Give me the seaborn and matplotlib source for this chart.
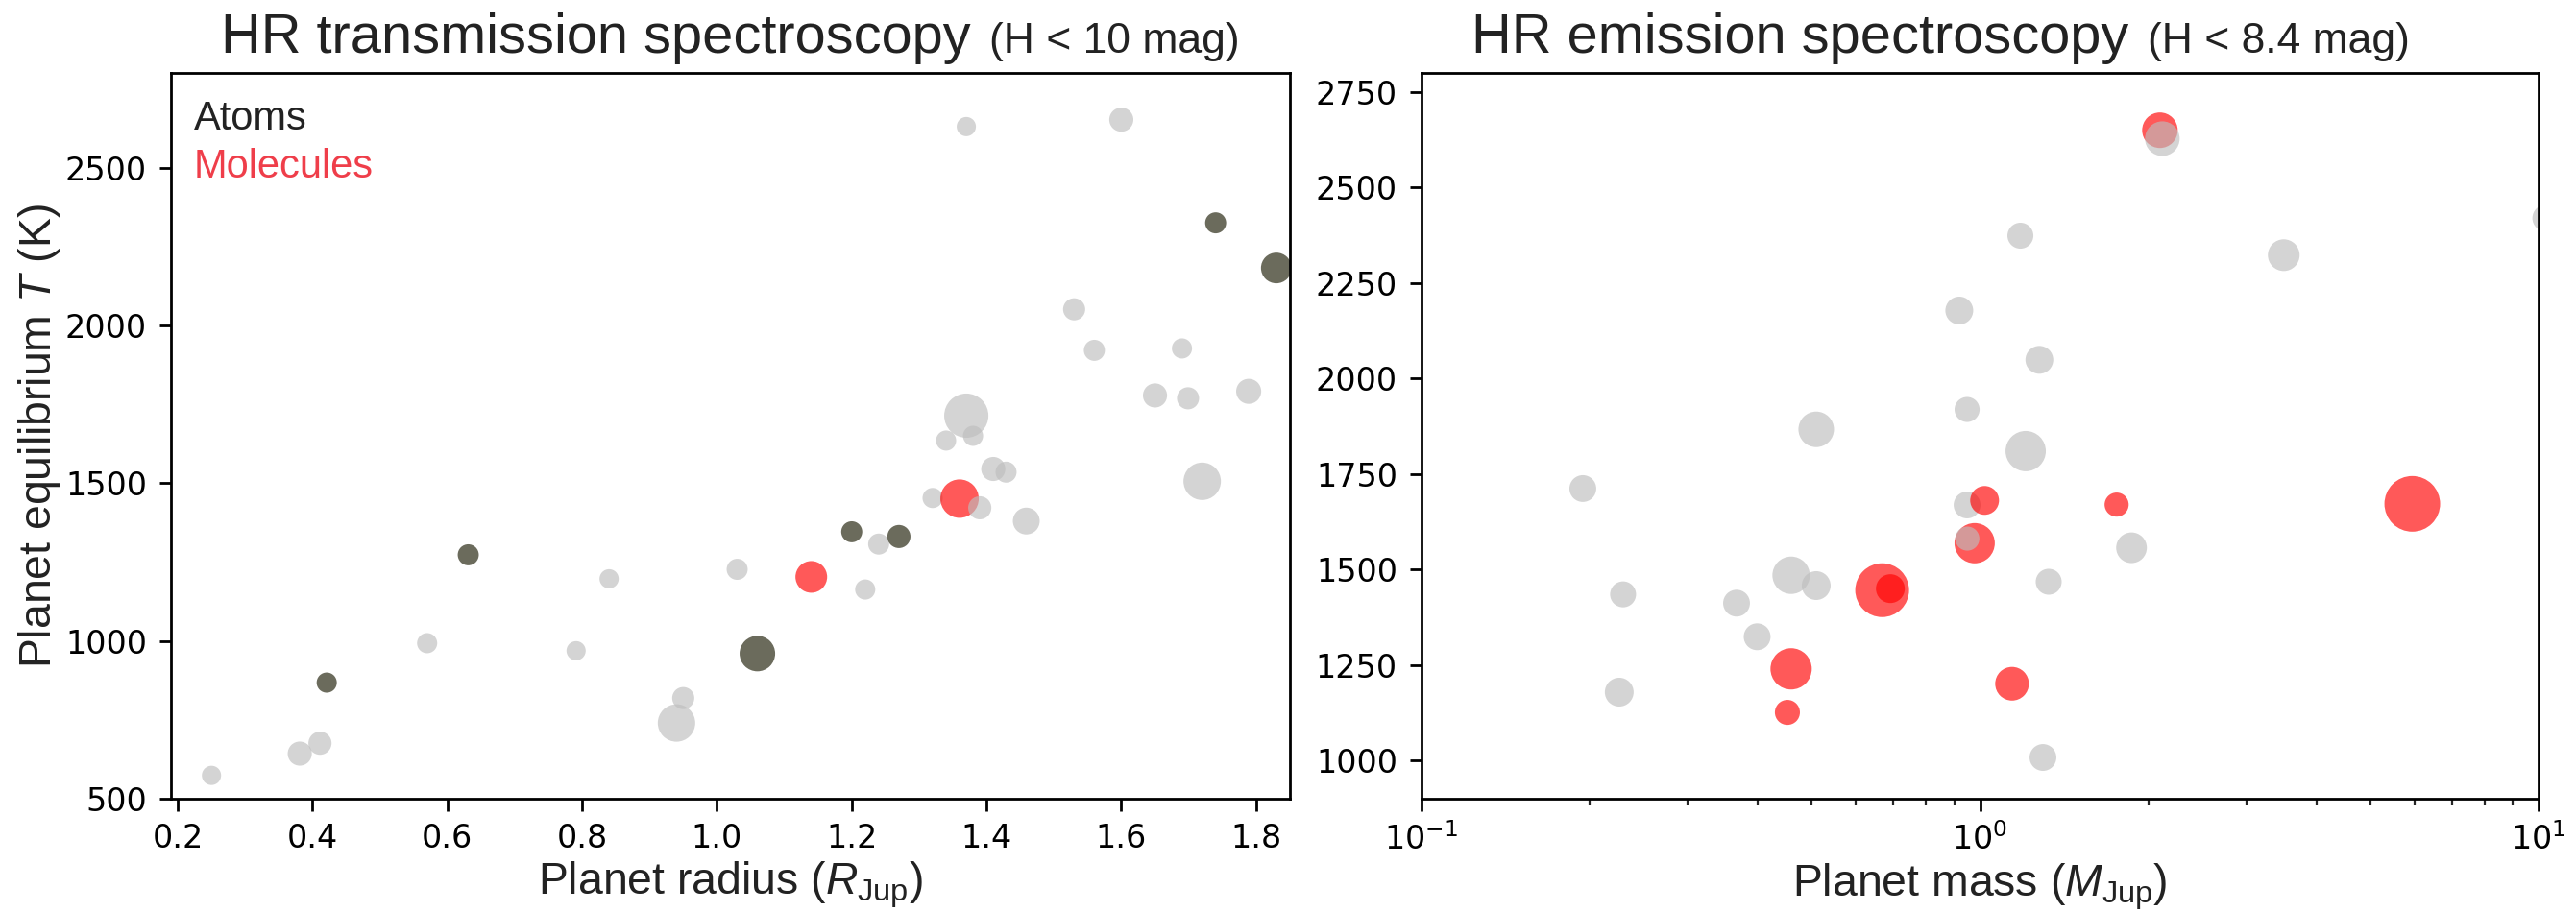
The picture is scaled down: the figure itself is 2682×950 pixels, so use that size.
import numpy as np
import pandas as pd
import matplotlib
matplotlib.use('Agg')
import matplotlib.pyplot as plt
import seaborn as sns

sns.set_style('ticks')
plt.rcParams['font.family'] = ['Liberation Sans', 'DejaVu Sans']
plt.rcParams['mathtext.fontset'] = 'custom'
plt.rcParams['mathtext.rm'] = 'Liberation Sans'
plt.rcParams['mathtext.it'] = 'Liberation Sans:italic'
plt.rcParams['mathtext.bf'] = 'Liberation Sans:bold'

# ---- transmission panel (radius vs equilibrium temperature) ----
tr_radius = [0.25, 0.381, 0.411, 0.421, 0.570, 0.631, 0.791, 0.840, 0.940, 0.950,
             1.030, 1.060, 1.140, 1.200, 1.220, 1.240, 1.270, 1.320, 1.360, 1.390,
             1.340, 1.370, 1.380, 1.410, 1.429, 1.459, 1.530, 1.560, 1.650, 1.690,
             1.699, 1.720, 1.789, 1.370, 1.600, 1.740, 1.830]
tr_teq = [574, 643, 676, 868, 993, 1273, 969, 1197, 740, 819,
          1227, 960, 1203, 1346, 1163, 1307, 1331, 1453, 1451, 1422,
          1635, 1714, 1650, 1545, 1535, 1380, 2051, 1921, 1778, 1927,
          1769, 1506, 1791, 2630, 2652, 2325, 2182]
tr_signal = [4.0, 6.3, 5.8, 4.4, 4.4, 4.8, 4.0, 4.0, 15.2, 5.3,
             4.8, 13.7, 10.9, 4.8, 4.4, 4.8, 5.8, 4.4, 16.0, 5.8,
             4.4, 21.2, 4.4, 6.3, 4.8, 7.8, 5.3, 4.8, 6.3, 4.4,
             5.3, 15.2, 6.8, 4.0, 6.3, 4.8, 10.2]
tr_kind = ['none', 'none', 'none', 'atoms', 'none', 'atoms', 'none', 'none', 'none', 'none',
           'none', 'atoms', 'molecules', 'atoms', 'none', 'none', 'atoms', 'none', 'molecules', 'none',
           'none', 'none', 'none', 'none', 'none', 'none', 'none', 'none', 'none', 'none',
           'none', 'none', 'none', 'none', 'none', 'atoms', 'atoms']

# ---- emission panel (mass vs equilibrium temperature) ----
em_mass = [0.1945, 0.2296, 0.226, 0.3665, 0.399, 0.459, 0.509, 0.459, 0.452, 0.668,
           0.691, 0.509, 0.918, 0.948, 0.948, 1.019, 0.978, 0.949, 1.756, 1.867,
           1.327, 5.94, 1.141, 1.296, 1.181, 1.277, 1.207, 3.497, 2.099, 2.12, 10.3]
em_teq = [1712, 1435, 1179, 1412, 1324, 1485, 1458, 1240, 1126, 1446,
          1450, 1867, 2178, 1919, 1669, 1681, 1569, 1581, 1670, 1557,
          1468, 1672, 1201, 1008, 2374, 2049, 1810, 2323, 2650, 2628, 2420]
em_signal = [7.8, 7.3, 9.0, 7.8, 7.8, 15.2, 9.0, 18.5, 6.8, 31.4,
             9.0, 13.7, 8.4, 6.8, 7.8, 9.0, 17.6, 6.3, 6.3, 10.2,
             7.3, 33.6, 12.3, 7.8, 7.3, 8.4, 17.6, 10.9, 13.7, 13.0, 7.8]
em_kind = ['none', 'none', 'none', 'none', 'none', 'none', 'none', 'molecules', 'molecules', 'molecules',
           'molecules', 'none', 'none', 'none', 'none', 'molecules', 'molecules', 'none', 'molecules', 'none',
           'none', 'molecules', 'molecules', 'none', 'none', 'none', 'none', 'none', 'molecules', 'none', 'none']

tr = pd.DataFrame({'radius': tr_radius, 'teq': tr_teq, 'signal': tr_signal, 'kind': tr_kind})
em = pd.DataFrame({'mass': em_mass, 'teq': em_teq, 'signal': em_signal, 'kind': em_kind})

palette = {'none': '#bdbdbd', 'atoms': '#1c1c05', 'molecules': '#ff0000'}

fig = plt.figure(figsize=(13.41, 4.75), dpi=200)
ax1 = fig.add_axes([0.0664, 0.1242, 0.4343, 0.7958])
ax2 = fig.add_axes([0.5518, 0.1242, 0.4337, 0.7958])

sns.scatterplot(data=tr, x='radius', y='teq', hue='kind', palette=palette,
                size='signal', sizes=(0, 518.4), size_norm=(0, 40),
                alpha=0.65, linewidth=0, legend=False, ax=ax1)
sns.scatterplot(data=em, x='mass', y='teq', hue='kind', palette=palette,
                size='signal', sizes=(0, 518.4), size_norm=(0, 40),
                alpha=0.65, linewidth=0, legend=False, ax=ax2)

ax1.set_xlim(0.19, 1.85)
ax1.set_ylim(500, 2800)
ax1.set_xticks(np.arange(0.2, 1.81, 0.2))
ax1.set_yticks([500, 1000, 1500, 2000, 2500])

ax2.set_xscale('log')
ax2.set_xlim(0.1, 10)
ax2.set_ylim(900, 2800)
ax2.set_yticks([1000, 1250, 1500, 1750, 2000, 2250, 2500, 2750])

for ax in (ax1, ax2):
    for sp in ax.spines.values():
        sp.set_linewidth(1.0)
        sp.set_color('black')
    ax.tick_params(which='major', length=4.5, width=1.0, pad=4.5, labelsize=12,
                   colors='black', labelfontfamily='DejaVu Sans')
    ax.tick_params(which='minor', length=2.5, width=0.8)
    ax.grid(False)

ax1.set_xlabel(r'Planet radius ($R_\mathrm{Jup}$)', fontsize=16.7, color='#222222', labelpad=2)
ax1.set_ylabel(r'Planet equilibrium $T$ (K)', fontsize=16.7, color='#222222')
ax1.yaxis.set_label_coords(-0.097, 0.5)
ax2.set_xlabel(r'Planet mass ($M_\mathrm{Jup}$)', fontsize=16.7, color='#222222', labelpad=2)
ax2.set_ylabel('')

# titles: big main text plus a smaller magnitude cut
titles = [(ax1, 'HR transmission spectroscopy', '(H < 10 mag)'),
          (ax2, 'HR emission spectroscopy', '(H < 8.4 mag)')]
for ax, main, sub in titles:
    t = ax.text(0.0446, 1.028, main, transform=ax.transAxes, fontsize=20.8,
                ha='left', va='baseline', color='#222222')
    ax.annotate(sub, xy=(1, 0), xycoords=t, xytext=(7, 4.4), textcoords='offset points',
                fontsize=16, ha='left', va='baseline', color='#222222')

ax1.text(0.0206, 0.922, 'Atoms', transform=ax1.transAxes, fontsize=15,
         color='#222222', ha='left', va='baseline')
ax1.text(0.0206, 0.856, 'Molecules', transform=ax1.transAxes, fontsize=15,
         color='#ef3e4a', ha='left', va='baseline')

fig.savefig('out.png', dpi=200)
